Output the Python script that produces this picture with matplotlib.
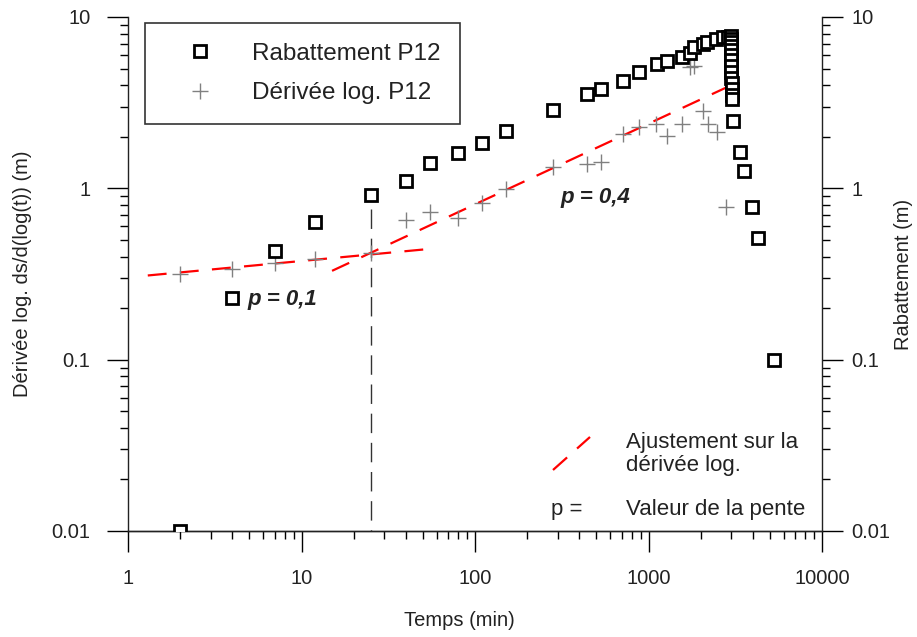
import numpy as np
import matplotlib
matplotlib.use("Agg")
import matplotlib.pyplot as plt
from matplotlib.ticker import FuncFormatter, NullFormatter, LogLocator
from matplotlib.lines import Line2D

plt.rcParams['font.family'] = ['Liberation Sans', 'DejaVu Sans']

# Rabattement P12 (axe de droite)
t_rab = [2, 4, 7, 12, 25, 40, 55, 80, 110, 150, 280, 440, 530, 710, 880,
         1120, 1280, 1560, 1740, 1830, 2060, 2170, 2450, 2690, 2870,
         2990, 2990, 2990, 2990, 2990, 2990, 2990, 3000, 3000, 3000, 3010, 3010, 3020, 3020,
         3070, 3370, 3550, 3950, 4280, 5290]
s_rab = [0.01, 0.23, 0.43, 0.64, 0.92, 1.11, 1.40, 1.60, 1.83, 2.15, 2.85, 3.54, 3.78, 4.21, 4.76,
         5.30, 5.51, 5.82, 6.14, 6.65, 6.93, 7.12, 7.41, 7.61, 7.65,
         7.7, 7.4, 7.1, 6.8, 6.4, 6.0, 5.6, 5.2, 4.8, 4.4, 4.1, 3.8, 3.5, 3.3,
         2.46, 1.62, 1.26, 0.775, 0.51, 0.10]

# Derivee log. P12 (axe de gauche)
t_der = [2, 4, 7, 12, 25, 40, 55, 80, 110, 150, 280, 440, 530, 710, 880,
         1100, 1280, 1560, 1740, 1820, 2060, 2200, 2480, 2800]
d_der = [0.315, 0.337, 0.365, 0.385, 0.418, 0.65, 0.724, 0.668, 0.82, 0.99, 1.34, 1.38, 1.42, 2.07, 2.27,
         2.36, 2.01, 2.36, 5.09, 5.15, 2.82, 2.36, 2.12, 0.775]

# droites d'ajustement
fit1_t = [1.3, 51]
fit1_d = [0.31, 0.44]
fit2_t = [15, 3000]
fit2_d = [0.33, 4.0]

# temps du changement de pente
t_cut = [25, 25]
d_cut = [0.76, 0.01]

fs = 14.5
fs_big = 16
txt = '#222222'

fig = plt.figure(figsize=(9.17, 6.37), dpi=100)
ax1 = fig.add_axes([128/917, 106/637, 694/917, 514/637])
ax2 = ax1.twinx()

for ax in (ax1, ax2):
    ax.set_xscale('log')
    ax.set_yscale('log')
    ax.set_xlim(1, 10000)
    ax.set_ylim(0.01, 10)
    ax.spines['top'].set_visible(False)
    ax.yaxis.set_major_formatter(FuncFormatter(lambda v, p: '%g' % v))
    ax.yaxis.set_minor_formatter(NullFormatter())
    ax.yaxis.set_minor_locator(LogLocator(base=10, subs=np.arange(2, 10)))
    ax.tick_params(which='major', length=15, width=1, direction='out', labelsize=fs, labelcolor=txt)
    ax.tick_params(which='minor', length=6, width=1, direction='out')
    for sp in ax.spines.values():
        sp.set_linewidth(1)
        sp.set_color('#222222')

ax1.spines['right'].set_visible(False)
ax2.spines['left'].set_visible(False)
ax1.tick_params(axis='y', pad=12)
ax1.tick_params(axis='x', pad=12)
ax2.tick_params(axis='y', pad=6)
ax1.xaxis.set_major_formatter(FuncFormatter(lambda v, p: '%g' % v))
ax1.xaxis.set_minor_formatter(NullFormatter())

# courbes
ax1.plot(fit1_t, fit1_d, color='red', lw=1.6, dashes=(8.5, 6), zorder=2)
ax1.plot(fit2_t, fit2_d, color='red', lw=1.6, dashes=(8.5, 6), zorder=2)
ax1.plot(t_cut, d_cut, color='#333333', lw=1, dashes=(14, 7), zorder=1)
h_der, = ax1.plot(t_der, d_der, ls='none', marker='+', ms=12, mew=1, color='#808080', zorder=3)
h_rab, = ax2.plot(t_rab, s_rab, ls='none', marker='s', ms=8, mew=2, mfc='white', mec='black', zorder=3)

ax1.text(4.9, 0.225, 'p = 0,1', fontsize=fs_big, fontweight='bold', style='italic', color=txt,
         ha='left', va='center')
ax1.text(309, 0.886, 'p = 0,4', fontsize=fs_big, fontweight='bold', style='italic', color=txt,
         ha='left', va='center')

ax1.set_xlabel('Temps (min)', fontsize=fs, color=txt, labelpad=18)
ax1.xaxis.set_label_coords(0.478, -0.155)
ax1.set_ylabel('Dérivée log. ds/d(log(t)) (m)', fontsize=fs, color=txt, labelpad=14)
ax2.set_ylabel('Rabattement (m)', fontsize=fs, color=txt, labelpad=3)

leg = ax2.legend([h_rab, h_der], ['Rabattement P12', 'Dérivée log. P12'],
                 loc='upper left', bbox_to_anchor=(0.0245, 0.988), borderaxespad=0,
                 fontsize=17.5, frameon=True, fancybox=False, edgecolor='#333333',
                 framealpha=1, borderpad=0.8, handlelength=2.9, handletextpad=0.7,
                 labelspacing=0.72)
leg.get_frame().set_linewidth(1.2)
for t in leg.get_texts():
    t.set_color(txt)

# legende en bas a droite
ax2.add_line(Line2D([0.6124, 0.6657], [0.1187, 0.1829], transform=ax2.transAxes,
                    color='red', lw=1.6, dashes=(8.5, 6)))
ax2.text(0.7176, 0.15, 'Ajustement sur la\ndérivée log.', transform=ax2.transAxes,
         fontsize=fs_big, color=txt, ha='left', va='center', linespacing=1.15)
ax2.text(0.6095, 0.041, 'p =', transform=ax2.transAxes, fontsize=fs_big, color=txt,
         ha='left', va='center')
ax2.text(0.7176, 0.041, 'Valeur de la pente', transform=ax2.transAxes, fontsize=fs_big, color=txt,
         ha='left', va='center')

fig.savefig('out.png', dpi=100)
